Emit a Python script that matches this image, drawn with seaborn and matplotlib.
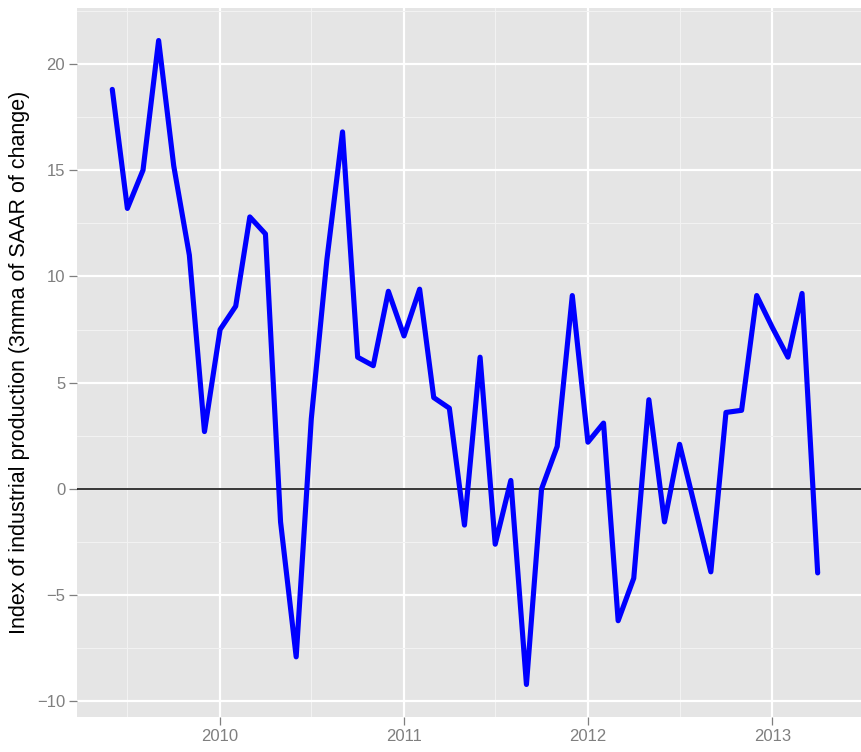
import pandas as pd
import numpy as np
import matplotlib
matplotlib.use("Agg")
import matplotlib.pyplot as plt
import seaborn as sns

# monthly, 2009-06 .. 2013-04
months = pd.date_range("2009-06-01", "2013-04-01", freq="MS")
ip_change = [18.8, 13.2, 15.0, 21.1, 15.2, 11.0, 2.7, 7.5, 8.6, 12.8,
             12.0, -1.55, -7.9, 3.3, 10.8, 16.8, 6.2, 5.8, 9.3, 7.2,
             9.4, 4.3, 3.8, -1.7, 6.2, -2.6, 0.4, -9.2, 0.0, 2.0,
             9.1, 2.2, 3.1, -6.2, -4.2, 4.2, -1.55, 2.1, -0.9, -3.9,
             3.6, 3.7, 9.1, 7.6, 6.2, 9.2, -3.95]
year_ticks = pd.to_datetime(["2010-01-01", "2011-01-01", "2012-01-01", "2013-01-01"])
year_labels = ["2010", "2011", "2012", "2013"]
mid_ticks = pd.to_datetime(["2009-07-01", "2010-07-01", "2011-07-01", "2012-07-01"])
y_ticks = [-10, -5, 0, 5, 10, 15, 20]
y_minor = [-7.5, -2.5, 2.5, 7.5, 12.5, 17.5, 22.5]

df = pd.DataFrame({"date": months, "value": ip_change})

sns.set_style("darkgrid")
plt.rcParams["font.family"] = ["Liberation Sans", "DejaVu Sans"]

fig = plt.figure(figsize=(8.61, 7.52), dpi=100)
ax = fig.add_axes([77 / 861, 1 - 717 / 752, 1 - 77 / 861, (717 - 8) / 752])
ax.set_facecolor("#E5E5E5")

sns.lineplot(data=df, x="date", y="value", ax=ax, color="#0000FF",
             linewidth=3.7, zorder=3)
ax.axhline(0, color="black", linewidth=1.1, zorder=2)

ax.set_xticks(year_ticks)
ax.set_xticklabels(year_labels)
ax.set_xticks(mid_ticks, minor=True)
ax.set_yticks(y_ticks)
ax.set_yticks(y_minor, minor=True)

ax.set_xlim(pd.Timestamp("2009-03-23"), pd.Timestamp("2013-06-26"))
ax.set_ylim(-10.73, 22.63)

ax.grid(which="major", color="white", linewidth=1.6)
ax.grid(which="minor", color="#F2F2F2", linewidth=0.8)
ax.set_axisbelow(True)
for s in ax.spines.values():
    s.set_visible(False)

ax.tick_params(which="major", length=5.5, width=0.9, color="#7F7F7F",
               labelcolor="#7F7F7F", labelsize=12, pad=3, bottom=True, left=True)
ax.tick_params(which="minor", length=0)

ax.set_xlabel("")
ax.set_ylabel("Index of industrial production (3mma of SAAR of change)",
              fontsize=15.5, color="black", labelpad=5)

fig.savefig("out.png", dpi=100)
